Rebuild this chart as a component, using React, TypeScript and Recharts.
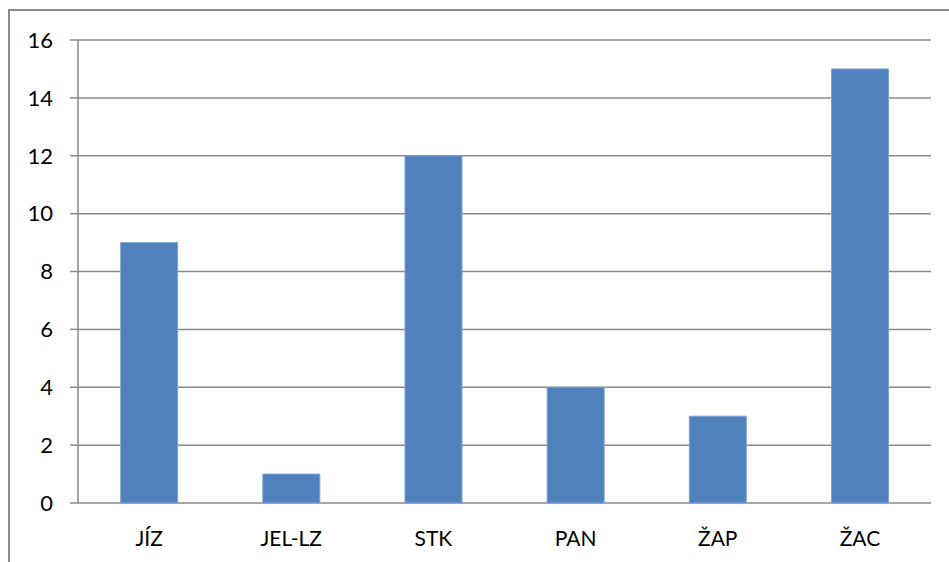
import { BarChart, Bar, XAxis, YAxis, CartesianGrid } from 'recharts'

const categories = ['JÍZ', 'JEL-LZ', 'STK', 'PAN', 'ŽAP', 'ŽAC']
const counts = [9, 1, 12, 4, 3, 15]
const yTicks = [0, 2, 4, 6, 8, 10, 12, 14, 16]
const boundaryTicks = [0, 1, 2, 3, 4, 5, 6]

const data = categories.map((name, i) => ({ name, value: counts[i] }))

const axisGray = '#8a8a8a'
const font = 'Lato, "Open Sans", sans-serif'

export default function App() {
  return (
    <div style={{ position: 'absolute', left: 0, top: 0, width: 949, height: 562, background: '#fff', overflow: 'hidden' }}>
      <div
        style={{
          position: 'absolute',
          left: 8,
          top: 9,
          width: 1000,
          height: 600,
          borderLeft: `2px solid ${axisGray}`,
          borderTop: `2px solid ${axisGray}`,
        }}
      />
      <div style={{ position: 'absolute', left: 0, top: 0 }}>
        <BarChart
          width={949}
          height={562}
          data={data}
          margin={{ top: 40, right: 18, bottom: 0, left: 0 }}
          barCategoryGap="30%"
        >
          <CartesianGrid vertical={false} stroke={axisGray} strokeWidth={1.5} />
          {/* boundary tick marks between categories */}
          <XAxis
            xAxisId="edges"
            type="number"
            domain={[0, 6]}
            ticks={boundaryTicks}
            height={0}
            tickSize={8}
            tickFormatter={() => ''}
            axisLine={{ stroke: axisGray, strokeWidth: 1.5 }}
            tickLine={{ stroke: axisGray, strokeWidth: 1.5 }}
            allowDataOverflow
          />
          <XAxis
            xAxisId="cat"
            dataKey="name"
            height={59}
            axisLine={false}
            tickLine={false}
            tickSize={0}
            tickMargin={28}
            interval={0}
            tick={{ fill: '#000', fontSize: 21, fontFamily: font }}
          />
          <YAxis
            width={78}
            domain={[0, 16]}
            ticks={yTicks}
            interval={0}
            tickSize={8}
            tickMargin={17}
            axisLine={{ stroke: axisGray, strokeWidth: 1.5 }}
            tickLine={{ stroke: axisGray, strokeWidth: 1.5 }}
            tick={{ fill: '#000', fontSize: 22, fontFamily: font }}
          />
          <Bar
            xAxisId="cat"
            dataKey="value"
            fill="#4f81bd"
            stroke="#7ea3d3"
            strokeWidth={1}
            isAnimationActive={false}
          />
        </BarChart>
      </div>
    </div>
  )
}
